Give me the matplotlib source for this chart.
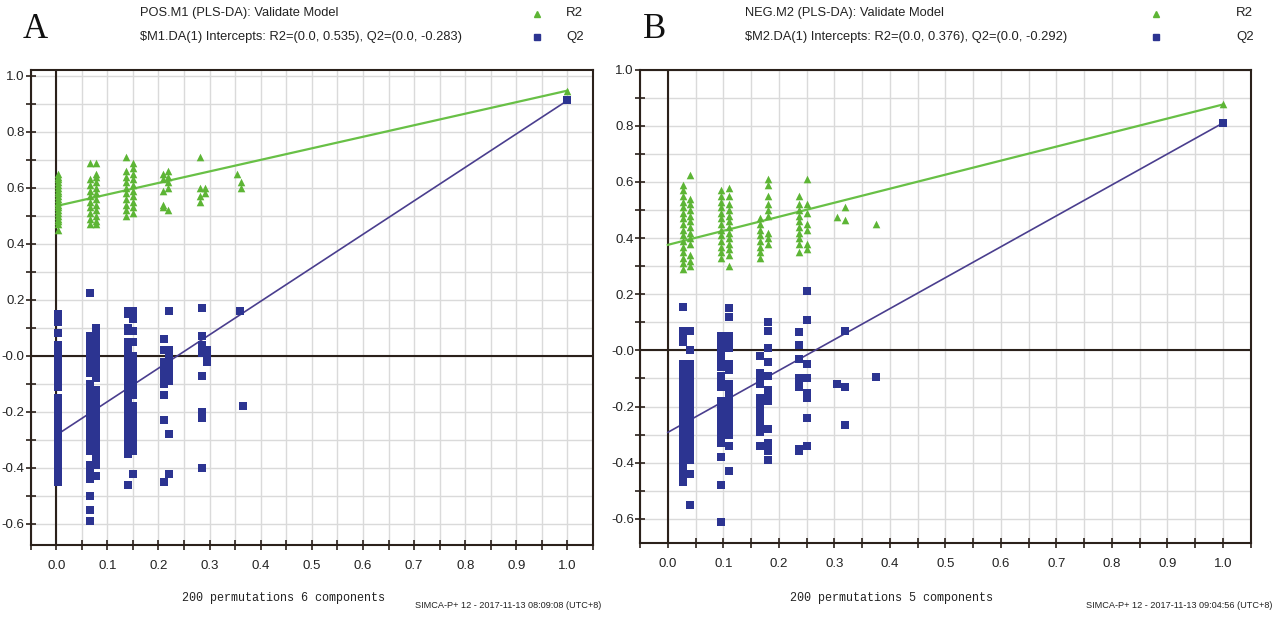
import numpy as np
import matplotlib.pyplot as plt
from matplotlib.ticker import MultipleLocator, FuncFormatter

# ---- panel A (POS.M1) ----
a_r2_x = [0.003, 0.067, 0.077, 0.137, 0.150, 0.209, 0.219, 0.281, 0.291, 0.354, 0.362]
a_r2_y = [
    [0.65, 0.64, 0.63, 0.62, 0.61, 0.60, 0.59, 0.58, 0.57, 0.56, 0.55, 0.54, 0.53,
     0.52, 0.51, 0.50, 0.49, 0.48, 0.47, 0.45],
    [0.69, 0.63, 0.61, 0.59, 0.57, 0.55, 0.53, 0.51, 0.49, 0.47],
    [0.69, 0.65, 0.64, 0.62, 0.60, 0.58, 0.56, 0.54, 0.52, 0.50, 0.48, 0.47],
    [0.71, 0.66, 0.64, 0.62, 0.60, 0.58, 0.56, 0.54, 0.52, 0.50],
    [0.69, 0.67, 0.65, 0.63, 0.61, 0.59, 0.57, 0.55, 0.53, 0.51],
    [0.65, 0.63, 0.59, 0.54, 0.53],
    [0.66, 0.64, 0.62, 0.60, 0.52],
    [0.71, 0.60, 0.57, 0.55],
    [0.60, 0.58],
    [0.65],
    [0.62, 0.60],
]
a_q2_x = [0.003, 0.067, 0.077, 0.140, 0.150, 0.210, 0.220, 0.285, 0.295, 0.360, 0.366]
a_q2_y = [
    [0.15, 0.12, 0.08, 0.04, 0.01, -0.01, -0.03, -0.05, -0.07, -0.09, -0.11, -0.15,
     -0.17, -0.19, -0.21, -0.23, -0.25, -0.27, -0.29, -0.31, -0.34, -0.36, -0.38,
     -0.40, -0.42, -0.45],
    [0.225, 0.07, 0.05, 0.02, 0.0, -0.02, -0.04, -0.06, -0.10, -0.12, -0.14, -0.16,
     -0.18, -0.20, -0.22, -0.24, -0.26, -0.28, -0.30, -0.32, -0.34, -0.39, -0.41,
     -0.44, -0.50, -0.55, -0.59],
    [0.10, 0.08, 0.06, 0.04, 0.02, 0.0, -0.02, -0.04, -0.06, -0.08, -0.12, -0.14,
     -0.16, -0.18, -0.20, -0.22, -0.24, -0.26, -0.28, -0.30, -0.32, -0.34, -0.36,
     -0.39, -0.43],
    [0.16, 0.15, 0.10, 0.09, 0.05, 0.03, 0.01, -0.01, -0.03, -0.05, -0.07, -0.09,
     -0.11, -0.13, -0.15, -0.17, -0.19, -0.21, -0.23, -0.25, -0.27, -0.29, -0.31,
     -0.33, -0.35, -0.46],
    [0.16, 0.13, 0.09, 0.05, 0.0, -0.02, -0.04, -0.06, -0.08, -0.10, -0.12, -0.14,
     -0.18, -0.20, -0.22, -0.24, -0.26, -0.28, -0.30, -0.32, -0.34, -0.42],
    [0.06, 0.02, -0.02, -0.04, -0.06, -0.08, -0.10, -0.14, -0.23, -0.45],
    [0.16, 0.02, 0.0, -0.02, -0.05, -0.07, -0.09, -0.28, -0.42],
    [0.17, 0.07, 0.04, 0.01, -0.07, -0.20, -0.22, -0.40],
    [0.02, 0.0, -0.02],
    [0.16],
    [-0.18],
]
a_orig = (1.0, 0.947, 0.912)
a_icpt = (0.535, -0.283)

# ---- panel B (NEG.M2) ----
b_r2_x = [0.027, 0.040, 0.096, 0.111, 0.167, 0.180, 0.236, 0.250, 0.305, 0.320, 0.375]
b_r2_y = [
    [0.59, 0.57, 0.55, 0.53, 0.51, 0.49, 0.47, 0.45, 0.43, 0.41, 0.39, 0.37, 0.35,
     0.33, 0.31, 0.29],
    [0.625, 0.54, 0.52, 0.50, 0.48, 0.46, 0.44, 0.42, 0.40, 0.38, 0.34, 0.32, 0.30],
    [0.57, 0.55, 0.53, 0.51, 0.49, 0.47, 0.45, 0.43, 0.41, 0.39, 0.37, 0.35, 0.33],
    [0.58, 0.55, 0.52, 0.50, 0.48, 0.46, 0.44, 0.42, 0.40, 0.38, 0.36, 0.34, 0.30],
    [0.47, 0.45, 0.43, 0.41, 0.39, 0.37, 0.35, 0.33],
    [0.61, 0.59, 0.55, 0.52, 0.50, 0.48, 0.42, 0.40, 0.38],
    [0.55, 0.52, 0.50, 0.48, 0.46, 0.44, 0.42, 0.40, 0.38, 0.35],
    [0.61, 0.52, 0.49, 0.45, 0.43, 0.38, 0.36],
    [0.475],
    [0.51, 0.465],
    [0.45],
]
b_q2_x = [0.027, 0.040, 0.096, 0.111, 0.167, 0.180, 0.236, 0.250, 0.305, 0.320, 0.375]
b_q2_y = [
    [0.155, 0.07, 0.05, 0.03, -0.05, -0.07, -0.09, -0.11, -0.13, -0.15, -0.17, -0.19,
     -0.21, -0.23, -0.25, -0.27, -0.29, -0.31, -0.33, -0.35, -0.37, -0.39, -0.41,
     -0.43, -0.45, -0.47],
    [0.07, 0.0, -0.05, -0.07, -0.09, -0.11, -0.13, -0.15, -0.17, -0.19, -0.21, -0.23,
     -0.25, -0.27, -0.29, -0.31, -0.33, -0.35, -0.37, -0.39, -0.44, -0.55],
    [0.05, 0.03, 0.01, -0.02, -0.04, -0.06, -0.09, -0.11, -0.13, -0.18, -0.20, -0.22,
     -0.24, -0.27, -0.29, -0.31, -0.33, -0.38, -0.48, -0.61],
    [0.15, 0.12, 0.05, 0.03, 0.01, -0.05, -0.07, -0.12, -0.14, -0.16, -0.18, -0.20,
     -0.22, -0.24, -0.26, -0.28, -0.30, -0.34, -0.43],
    [-0.02, -0.08, -0.10, -0.12, -0.17, -0.19, -0.21, -0.23, -0.25, -0.27, -0.29, -0.34],
    [0.10, 0.07, 0.01, -0.04, -0.09, -0.14, -0.16, -0.18, -0.28, -0.33, -0.36, -0.39],
    [0.065, 0.02, -0.03, -0.10, -0.12, -0.13, -0.35, -0.36],
    [0.21, 0.11, -0.05, -0.10, -0.15, -0.17, -0.24, -0.34],
    [-0.12],
    [0.07, -0.13, -0.265],
    [-0.095],
]
b_orig = (1.0, 0.876, 0.810)
b_icpt = (0.376, -0.292)

GREEN = '#5db535'
GREEN_LINE = '#68c046'
BLUE = '#2c3491'
PURPLE = '#4a3e8e'
DARK = '#2b211b'
SANS = ['Liberation Sans', 'DejaVu Sans']


def flatten(xs, ys):
    px, py = [], []
    for x, col in zip(xs, ys):
        px += [x] * len(col)
        py += col
    return px, py


def zero_fmt(v, pos):
    if abs(v) < 1e-9:
        return '-0.0'
    return '%.1f' % v


def draw_panel(ax, r2x, r2y, q2x, q2y, orig, icpt, ylim):
    ax.set_xlim(-0.05, 1.05)
    ax.set_ylim(*ylim)
    ax.xaxis.set_major_locator(MultipleLocator(0.1))
    ax.xaxis.set_minor_locator(MultipleLocator(0.05))
    ax.yaxis.set_major_locator(MultipleLocator(0.2))
    ax.yaxis.set_minor_locator(MultipleLocator(0.1))
    ax.yaxis.set_major_formatter(FuncFormatter(zero_fmt))
    ax.grid(which='both', color='#dadada', lw=1.0)
    ax.set_axisbelow(True)
    ax.tick_params(which='both', direction='inout', color=DARK, width=1.2, length=7)
    ax.tick_params(axis='x', pad=7)
    ax.tick_params(axis='y', pad=1)
    for lab in ax.get_xticklabels() + ax.get_yticklabels():
        lab.set_family(SANS)
        lab.set_fontsize(9.5)
        lab.set_color('#222222')
    for sp in ax.spines.values():
        sp.set_color(DARK)
        sp.set_linewidth(1.5)
    ax.axhline(0, color=DARK, lw=1.5, zorder=1)
    ax.axvline(0, color=DARK, lw=1.5, zorder=1)

    # regression lines through intercept and original model
    ax.plot([0, orig[0]], [icpt[0], orig[1]], color=GREEN_LINE, lw=1.6, zorder=2)
    ax.plot([0, orig[0]], [icpt[1], orig[2]], color=PURPLE, lw=1.2, zorder=2)

    rx, ry = flatten(r2x, r2y)
    qx, qy = flatten(q2x, q2y)
    ax.scatter(rx + [orig[0]], ry + [orig[1]], marker='^', s=30, color=GREEN,
               linewidths=0, zorder=3)
    ax.scatter(qx + [orig[0]], qy + [orig[2]], marker='s', s=30, color=BLUE,
               linewidths=0, zorder=3)


fig = plt.figure(figsize=(12.77, 6.21), dpi=100)
ax_a = fig.add_axes([0.024, 0.1224, 0.4404, 0.7646])
ax_b = fig.add_axes([0.5012, 0.1256, 0.4782, 0.7622])

draw_panel(ax_a, a_r2_x, a_r2_y, a_q2_x, a_q2_y, a_orig, a_icpt, (-0.675, 1.02))
draw_panel(ax_b, b_r2_x, b_r2_y, b_q2_x, b_q2_y, b_orig, b_icpt, (-0.686, 1.0))

W, H = 1277.0, 621.0


def fx(px):
    return px / W


def fy(py):
    return 1 - py / H


headers = [
    ('A', 35, 'POS.M1 (PLS-DA): Validate Model',
     '$M1.DA(1) Intercepts: R2=(0.0, 0.535), Q2=(0.0, -0.283)', 140, 537, 566,
     '200 permutations 6 components', 284, 'SIMCA-P+ 12 - 2017-11-13 08:09:08 (UTC+8)', 601),
    ('B', 655, 'NEG.M2 (PLS-DA): Validate Model',
     '$M2.DA(1) Intercepts: R2=(0.0, 0.376), Q2=(0.0, -0.292)', 745, 1156, 1236,
     '200 permutations 5 components', 891, 'SIMCA-P+ 12 - 2017-11-13 09:04:56 (UTC+8)', 1272),
]

for (letter, lx, t1, t2, tx, mx, rx, perm, permx, simca, sx) in headers:
    fig.text(fx(lx), fy(30), letter, family='Liberation Serif', fontsize=25,
             ha='center', va='center', color='#111111')
    fig.text(fx(tx), fy(13), t1, family=SANS, fontsize=9.3, ha='left',
             va='center', color='#222222')
    fig.text(fx(tx), fy(37), t2.replace('$', r'\$'), family=SANS, fontsize=9.3,
             ha='left', va='center', color='#222222')
    fig.lines.append(plt.Line2D([fx(mx)], [fy(14)], marker='^', ms=5, color=GREEN,
                                lw=0, transform=fig.transFigure))
    fig.lines.append(plt.Line2D([fx(mx)], [fy(37)], marker='s', ms=5, color=BLUE,
                                lw=0, transform=fig.transFigure))
    fig.text(fx(rx), fy(13), 'R2', family=SANS, fontsize=9.5, ha='left',
             va='center', color='#222222')
    fig.text(fx(rx), fy(37), 'Q2', family=SANS, fontsize=9.5, ha='left',
             va='center', color='#222222')
    fig.text(fx(permx), fy(598), perm, family='Liberation Mono', fontsize=8.5,
             ha='center', va='center', color='#222222')
    fig.text(fx(sx), fy(606), simca, family=SANS, fontsize=6.6, ha='right',
             va='center', color='#222222')

fig.savefig('out.png', dpi=100)
